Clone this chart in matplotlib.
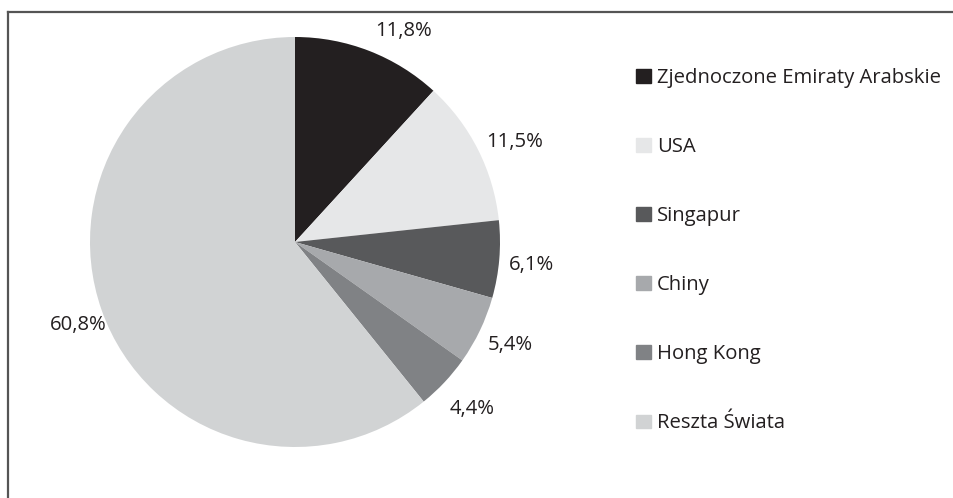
import numpy as np
import matplotlib
matplotlib.use("Agg")
import matplotlib.pyplot as plt
from matplotlib.lines import Line2D

countries = ["Zjednoczone Emiraty Arabskie", "USA", "Singapur", "Chiny", "Hong Kong", "Reszta Świata"]
shares = [11.8, 11.5, 6.1, 5.4, 4.4, 60.8]
share_labels = ["11,8%", "11,5%", "6,1%", "5,4%", "4,4%", "60,8%"]
colors = ["#231f20", "#e6e7e8", "#58595b", "#a7a9ac", "#808285", "#d1d3d4"]

# label placement (radius factor, angle nudge in degrees)
label_r = [1.156, 1.179, 1.157, 1.165, 1.187, 1.133]
label_nudge = [-5.9, -2.4, -0.7, 0.0, 0.0, 1.6]

plt.rcParams['font.family'] = ['Open Sans', 'DejaVu Sans']
W, H = 954, 498
fig = plt.figure(figsize=(W / 100, H / 100), dpi=100)

# pie centre ~ (295, 242) px, radius ~205 px
cx, cy, r = 295, 242, 205
ax = fig.add_axes([(cx - r) / W, (H - cy - r) / H, 2 * r / W, 2 * r / H])
wedges, _ = ax.pie(shares, colors=colors, startangle=90, counterclock=False,
                   radius=1, wedgeprops=dict(linewidth=0))
ax.set_xlim(-1, 1)
ax.set_ylim(-1, 1)
ax.set_aspect('auto')
ax.axis('off')

for w, lab, lr, nd in zip(wedges, share_labels, label_r, label_nudge):
    ang = np.deg2rad((w.theta1 + w.theta2) / 2 + nd)
    ax.text(lr * np.cos(ang), lr * np.sin(ang), lab, ha='center', va='center',
            fontsize=14.6, color='#231f20')

handles = [plt.Rectangle((0, 0), 1, 1, color=c) for c in colors]
fig.legend(handles, countries, loc='upper left', bbox_to_anchor=(636 / W, 1 - 68 / H),
           frameon=False, fontsize=14.6, handlelength=0.74, handleheight=0.64,
           handletextpad=0.3, labelspacing=2.42, borderaxespad=0, borderpad=0,
           labelcolor='#231f20')

# frame lines (top and left only visible)
fig.add_artist(Line2D([8.5 / W, 1], [1 - 12.5 / H, 1 - 12.5 / H], color='#555555', lw=1.6,
                      transform=fig.transFigure))
fig.add_artist(Line2D([8.5 / W, 8.5 / W], [0, 1 - 12.5 / H], color='#555555', lw=1.6,
                      transform=fig.transFigure))

fig.savefig("out.png", dpi=100)
